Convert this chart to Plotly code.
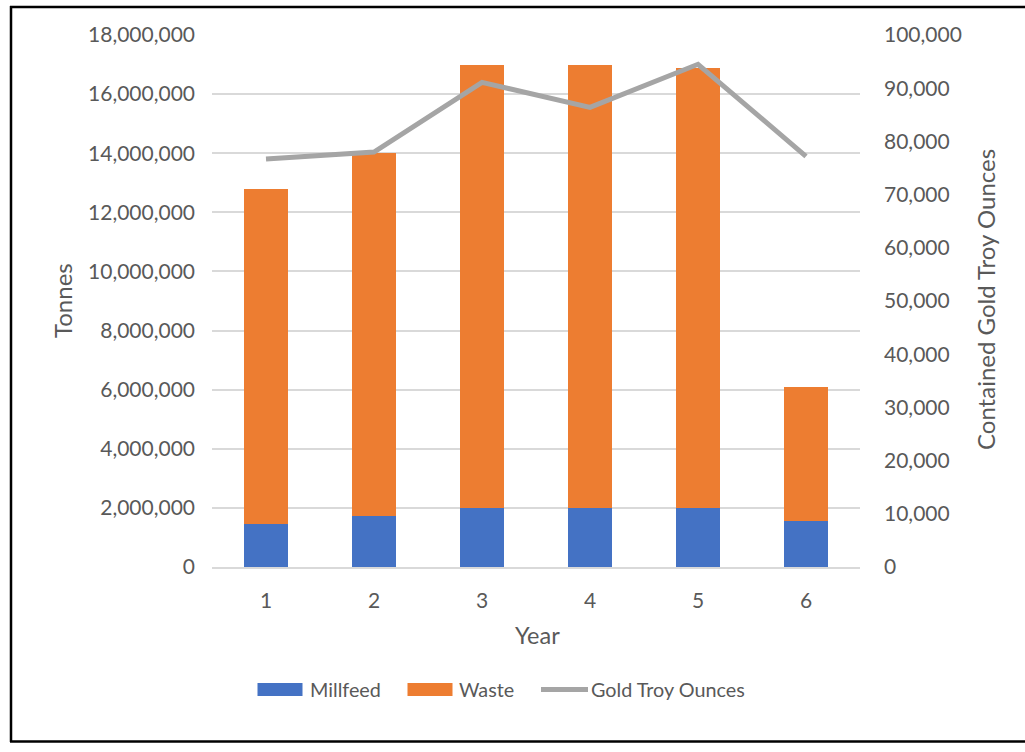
import plotly.graph_objects as go

# Mine schedule by year
years = ["1", "2", "3", "4", "5", "6"]
millfeed_t = [1_470_000, 1_720_000, 2_000_000, 2_000_000, 2_000_000, 1_550_000]
waste_t = [11_330_000, 12_280_000, 15_000_000, 15_000_000, 14_870_000, 4_550_000]
gold_oz = [76_700, 78_000, 91_100, 86_400, 94_500, 77_200]

left_ticks = list(range(0, 18_000_001, 2_000_000))
right_ticks = list(range(0, 100_001, 10_000))

BLUE = "#4472C4"
ORANGE = "#ED7D31"
GREY = "#A5A5A5"
TEXT = "#595959"
GRID = "#D9D9D9"
FONT = "Lato, Open Sans, sans-serif"

W, H = 1025, 752
L, R, T, B = 212, 860, 35, 567  # plot-area edges in pixels


def px(x):
    return (x - L) / (R - L)


def py(y):
    return (B - y) / (B - T)


fig = go.Figure()
fig.add_trace(go.Bar(x=years, y=millfeed_t, name="Millfeed",
                     marker=dict(color=BLUE, line=dict(width=0)), showlegend=False))
fig.add_trace(go.Bar(x=years, y=waste_t, name="Waste",
                     marker=dict(color=ORANGE, line=dict(width=0)), showlegend=False))
fig.add_trace(go.Scatter(x=years, y=gold_oz, name="Gold Troy Ounces", yaxis="y2",
                         mode="lines", line=dict(color=GREY, width=5),
                         showlegend=False))

fig.update_layout(
    width=W, height=H,
    margin=dict(l=L, r=W - R, t=T, b=H - B),
    paper_bgcolor="white", plot_bgcolor="white",
    barmode="stack", bargap=0.59,
    font=dict(family=FONT, color=TEXT, size=21),
    xaxis=dict(type="category", showgrid=False, showline=True, linecolor=GRID,
               linewidth=1.5, ticks="", ticklabelstandoff=14,
               tickfont=dict(size=21, color=TEXT)),
    yaxis=dict(range=[0, 18_000_000], tickvals=left_ticks,
               ticktext=[f"{v:,}" for v in left_ticks],
               showgrid=True, gridcolor=GRID, gridwidth=1.5, zeroline=False,
               showline=False, ticks="", ticklabelstandoff=16,
               tickfont=dict(size=21, color=TEXT)),
    yaxis2=dict(range=[0, 100_000], tickvals=right_ticks,
                ticktext=[f"{v:,}" for v in right_ticks],
                overlaying="y", side="right", showgrid=False, zeroline=False,
                showline=False, ticks="", ticklabelstandoff=23,
                tickfont=dict(size=21, color=TEXT)),
)

annotations = [
    dict(text="Tonnes", x=px(62), y=py(301), textangle=-90,
         font=dict(size=24, color=TEXT)),
    dict(text="Contained Gold Troy Ounces", x=px(985), y=py(300), textangle=-90,
         font=dict(size=24, color=TEXT)),
    dict(text="Year", x=px(537), y=py(635), font=dict(size=23.5, color=TEXT)),
]
for a in annotations:
    a.update(xref="paper", yref="paper", showarrow=False,
             xanchor="center", yanchor="middle")

shapes = []
# Legend, drawn with wide swatches
leg_y = 689.5
legend_items = [
    ("Millfeed", "bar", BLUE, 257.5, 302.5, 308),
    ("Waste", "bar", ORANGE, 407.5, 452.5, 457),
    ("Gold Troy Ounces", "line", GREY, 541, 588, 589),
]
for name, kind, color, x0, x1, tx in legend_items:
    if kind == "bar":
        shapes.append(dict(type="rect", xref="paper", yref="paper",
                           x0=px(x0), x1=px(x1), y0=py(leg_y - 6.5), y1=py(leg_y + 6.5),
                           fillcolor=color, line=dict(width=0)))
    else:
        shapes.append(dict(type="line", xref="paper", yref="paper",
                           x0=px(x0), x1=px(x1), y0=py(leg_y), y1=py(leg_y),
                           line=dict(color=color, width=5)))
    annotations.append(dict(text=name, xref="paper", yref="paper", showarrow=False,
                            x=px(tx), y=py(leg_y), xanchor="left", yanchor="middle",
                            font=dict(size=19.8, color=TEXT)))

# Outer frame
frame = dict(color="black", width=2.5)
shapes += [
    dict(type="line", xref="paper", yref="paper", x0=px(10), x1=px(1030),
         y0=py(7), y1=py(7), line=frame),
    dict(type="line", xref="paper", yref="paper", x0=px(11), x1=px(11),
         y0=py(6), y1=py(742), line=frame),
    dict(type="line", xref="paper", yref="paper", x0=px(10), x1=px(1030),
         y0=py(741.5), y1=py(741.5), line=frame),
]

fig.update_layout(annotations=annotations, shapes=shapes)
fig.write_html("out.html")
